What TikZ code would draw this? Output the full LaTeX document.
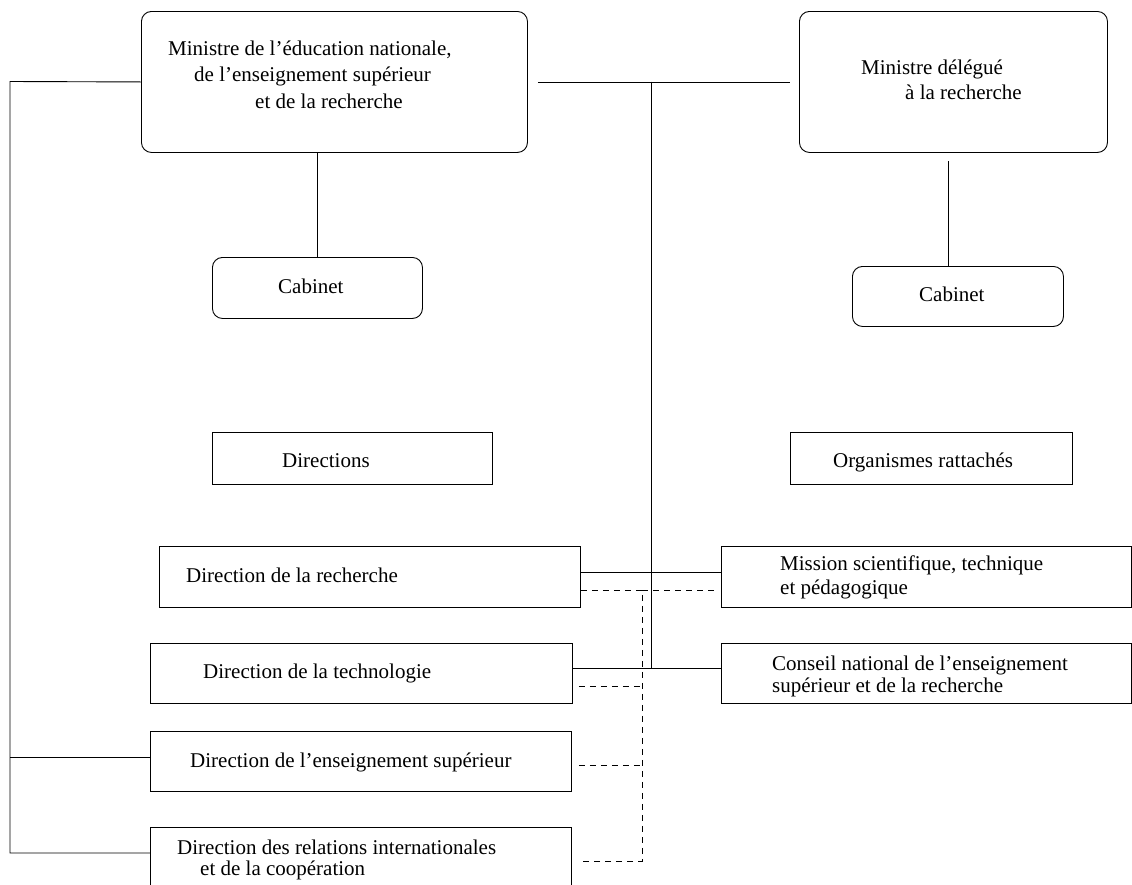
\documentclass[tikz,border=0pt]{standalone}
\usepackage{fontspec}
\setmainfont{Liberation Serif}
\begin{document}
\begin{tikzpicture}[x=1pt,y=-1pt,
  box/.style={draw=black,line width=0.9pt,inner sep=0pt,anchor=north west},
  rbox/.style={box,rounded corners=10pt},
  lbl/.style={anchor=base west,inner sep=0pt,font=\fontsize{21}{25}\selectfont},
  conn/.style={draw=black,line width=0.9pt},
  dconn/.style={draw=black,line width=0.9pt,dash pattern=on 6pt off 5pt}]
\useasboundingbox (0,0) rectangle (1132,884);
\clip (0,0) rectangle (1132,884);
% boxes
\node[rbox,minimum width=386pt,minimum height=141pt] (b1) at (141,11) {};
\node[rbox,minimum width=308pt,minimum height=141pt] (b2) at (799,11) {};
\node[rbox,minimum width=210pt,minimum height=61pt] (cab1) at (212,257) {};
\node[rbox,minimum width=211pt,minimum height=60pt] (cab2) at (852,266) {};
\node[box,minimum width=280pt,minimum height=52pt] (dirs) at (212,432) {};
\node[box,minimum width=282pt,minimum height=52pt] (org) at (790,432) {};
\node[box,minimum width=421pt,minimum height=61pt] (drech) at (159,546) {};
\node[box,minimum width=422pt,minimum height=60pt] (dtech) at (150,643) {};
\node[box,minimum width=421pt,minimum height=60pt] (dsup) at (150,731) {};
\node[box,minimum width=421pt,minimum height=80pt] (dri) at (150,827) {};
\node[box,minimum width=410pt,minimum height=61pt] (mission) at (721,546) {};
\node[box,minimum width=410pt,minimum height=60pt] (conseil) at (721,643) {};
% texts
\node[lbl] (t1a) at (168,55) {Ministre de l’éducation nationale,};
\node[lbl] (t1b) at (194,81.5) {de l’enseignement supérieur};
\node[lbl] (t1c) at (255,108) {et de la recherche};
\node[lbl] (t2a) at (861,74) {Ministre délégué};
\node[lbl] (t2b) at (905,99) {à la recherche};
\node[lbl] (tc1) at (278,293) {Cabinet};
\node[lbl] (tc2) at (919,301) {Cabinet};
\node[lbl] (tdirs) at (282,467) {Directions};
\node[lbl] (torg) at (833,467) {Organismes rattachés};
\node[lbl] (tdr) at (186,582) {Direction de la recherche};
\node[lbl] (tdt) at (203,678) {Direction de la technologie};
\node[lbl] (tds) at (190,767) {Direction de l’enseignement supérieur};
\node[lbl] (tri1) at (177,854) {Direction des relations internationales};
\node[lbl] (tri2) at (200,875) {et de la coopération};
\node[lbl] (tm1) at (780,570) {Mission scientifique, technique};
\node[lbl] (tm2) at (780,594) {et pédagogique};
\node[lbl] (tcn1) at (772,670) {Conseil national de l’enseignement};
\node[lbl] (tcn2) at (772,692) {supérieur et de la recherche};
% coordinates
\coordinate (L) at (10,81.5);
\coordinate (Lsup) at (10,757);
\coordinate (Lri) at (10,853);
\coordinate (T) at (651,81.5);
\coordinate (Tb) at (651,668);
\coordinate (D) at (642,590);
\coordinate (Db) at (642,861);
\coordinate (Dm) at (715,590);
\coordinate (c2top) at (948,161);
% solid connectors
\draw[conn] (b1.west) -- (L) -- (Lri) -- (Lri -| dri.west);
\draw[conn] (Lsup) -- (Lsup -| dsup.west);
\draw[conn] ([xshift=10pt]b1.east) -- ([xshift=-9pt]b2.west);
\draw[conn] (T) -- (Tb);
\draw[conn] (b1.south -| cab1.north) -- (cab1.north);
\draw[conn] (c2top) -- (c2top |- cab2.north);
\draw[conn] (drech.east |- 0,572) -- (mission.west |- 0,572);
\draw[conn] (dtech.east |- Tb) -- (conseil.west |- Tb);
% dashed connectors
\draw[dconn] (drech.east |- D) -- (D) -- (Db) -- ([xshift=7pt]dri.east |- Db);
\draw[dconn] (D) -- (Dm);
\draw[dconn] ([xshift=6pt]dtech.east |- 0,686) -- (D |- 0,686);
\draw[dconn] ([xshift=7pt]dsup.east |- 0,765) -- (D |- 0,765);
\end{tikzpicture}
\end{document}
